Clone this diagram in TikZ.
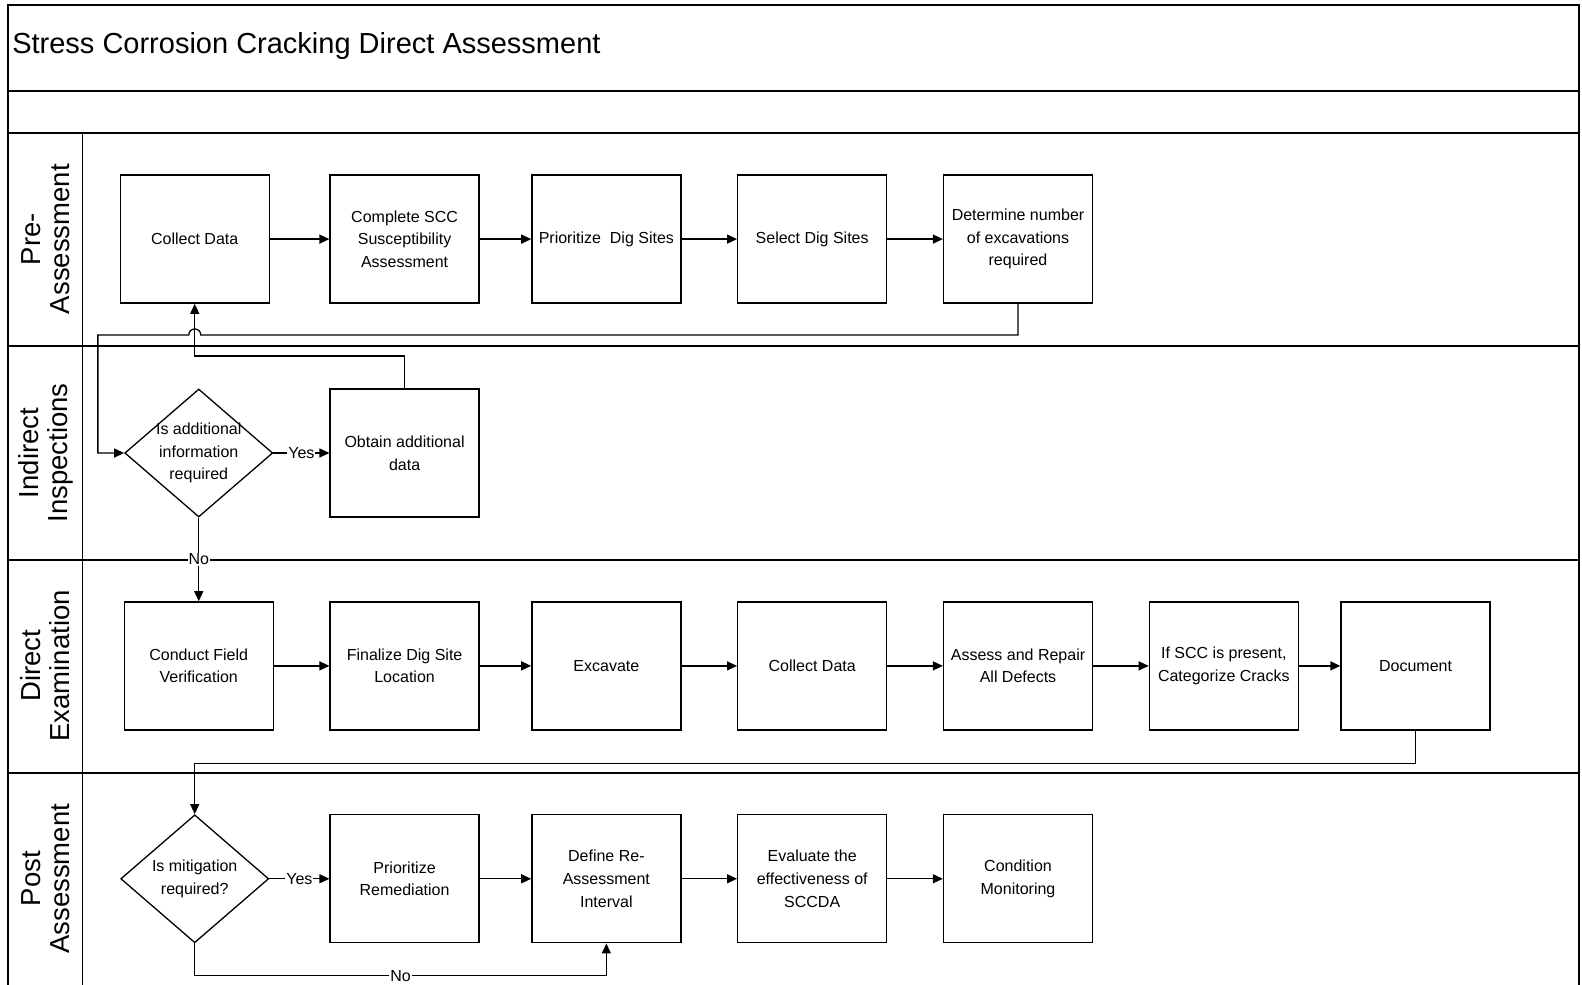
\documentclass[tikz,border=0pt]{standalone}
\usepackage{fontspec}
\setmainfont{Liberation Sans}
\usetikzlibrary{shapes.geometric,arrows.meta}
\begin{document}
\begin{tikzpicture}[x=1.00893pt,y=-1.00893pt,
	box/.style={draw,line width=1.3pt,minimum width=149pt,minimum height=128pt,align=center,inner sep=1pt,font=\fontsize{16}{22.7}\selectfont},
	decision/.style={draw,diamond,line width=1.3pt,minimum width=148pt,minimum height=128pt,inner sep=0pt},
	dtext/.style={align=center,inner sep=0pt,font=\fontsize{16}{22.7}\selectfont},
	flow/.style={line width=1.3pt,-{Triangle[length=10pt,width=9pt]}},
	lbl/.style={fill=white,inner sep=1pt,font=\fontsize{16}{20}\selectfont},
	lane/.style={rotate=90,align=center,inner sep=0pt,font=\fontsize{27.5}{29}\selectfont}]
	\useasboundingbox (0,0) rectangle (1568,976);
	\draw[line width=1.5pt] (8,976) -- (8,5) -- (1565,5) -- (1565,976);
	\draw[line width=1.5pt] (8,90) -- (1565,90);
	\draw[line width=1.5pt] (8,132) -- (1565,132);
	\draw[line width=1.5pt] (8,343) -- (1565,343);
	\draw[line width=1.5pt] (8,555) -- (1565,555);
	\draw[line width=1.5pt] (8,766) -- (1565,766);
	\draw[line width=1.5pt] (82,132) -- (82,976);
	\node[anchor=west,inner sep=0pt,font=\fontsize{29}{34}\selectfont] (title) at (12,46) {Stress Corrosion Cracking Direct Assessment};
	\node[lane] (pre) at (45,237) {Pre-\\Assessment};
	\node[lane] (indirect) at (45,449) {Indirect\\Inspections};
	\node[lane] (direct) at (45,660) {Direct\\Examination};
	\node[lane] (post) at (45,871) {Post\\Assessment};
	\node[box] (cd1) at (193,237) {Collect Data};
	\node[box] (scc) at (401,237) {Complete SCC\\Susceptibility\\Assessment};
	\node[box] (prio) at (601,237) {Prioritize\ \ Dig Sites};
	\node[box] (sel) at (805,237) {Select Dig Sites};
	\node[box] (det) at (1009,237) {Determine number\\of excavations\\required};
	\node[decision,label={[dtext]center:Is additional\\information\\required}] (isadd) at (197,449) {};
	\node[box] (obt) at (401,449) {Obtain additional\\data};
	\node[box] (cfv) at (197,660) {Conduct Field\\Verification};
	\node[box] (fin) at (401,660) {Finalize Dig Site\\Location};
	\node[box] (exc) at (601,660) {Excavate};
	\node[box] (cd2) at (805,660) {Collect Data};
	\node[box] (rep) at (1009,660) {Assess and Repair\\All Defects};
	\node[box] (cat) at (1213,660) {If SCC is present,\\Categorize Cracks};
	\node[box] (doc) at (1403,660) {Document};
	\node[decision,label={[dtext]center:Is mitigation\\required?}] (ismit) at (193,871) {};
	\node[box] (rem) at (401,871) {Prioritize\\Remediation};
	\node[box] (dre) at (601,871) {Define Re-\\Assessment\\Interval};
	\node[box] (eval) at (805,871) {Evaluate the\\effectiveness of\\SCCDA};
	\node[box] (cond) at (1009,871) {Condition\\Monitoring};
	\draw[flow] (cd1) -- (scc);
	\draw[flow] (scc) -- (prio);
	\draw[flow] (prio) -- (sel);
	\draw[flow] (sel) -- (det);
	\draw[flow] (det.south) |- (199,332) arc[start angle=0,end angle=180,radius=6pt] -- (97,332) |- (isadd.west);
	\draw[flow] (obt.north) -- ++(0,-32) -| (cd1.south);
	\draw[flow] (isadd.east) -- node[lbl]{Yes} (obt.west);
	\draw[flow] (isadd.south) -- node[lbl]{No} (cfv.north);
	\draw[flow] (cfv) -- (fin);
	\draw[flow] (fin) -- (exc);
	\draw[flow] (exc) -- (cd2);
	\draw[flow] (cd2) -- (rep);
	\draw[flow] (rep) -- (cat);
	\draw[flow] (cat) -- (doc);
	\draw[flow] (doc.south) -- ++(0,33) -| (ismit.north);
	\draw[flow] (ismit.east) -- node[lbl]{Yes} (rem.west);
	\draw[flow] (ismit.south) -- ++(0,32) -| node[lbl,pos=0.25]{No} (dre.south);
	\draw[flow] (rem) -- (dre);
	\draw[flow] (dre) -- (eval);
	\draw[flow] (eval) -- (cond);
\end{tikzpicture}
\end{document}
